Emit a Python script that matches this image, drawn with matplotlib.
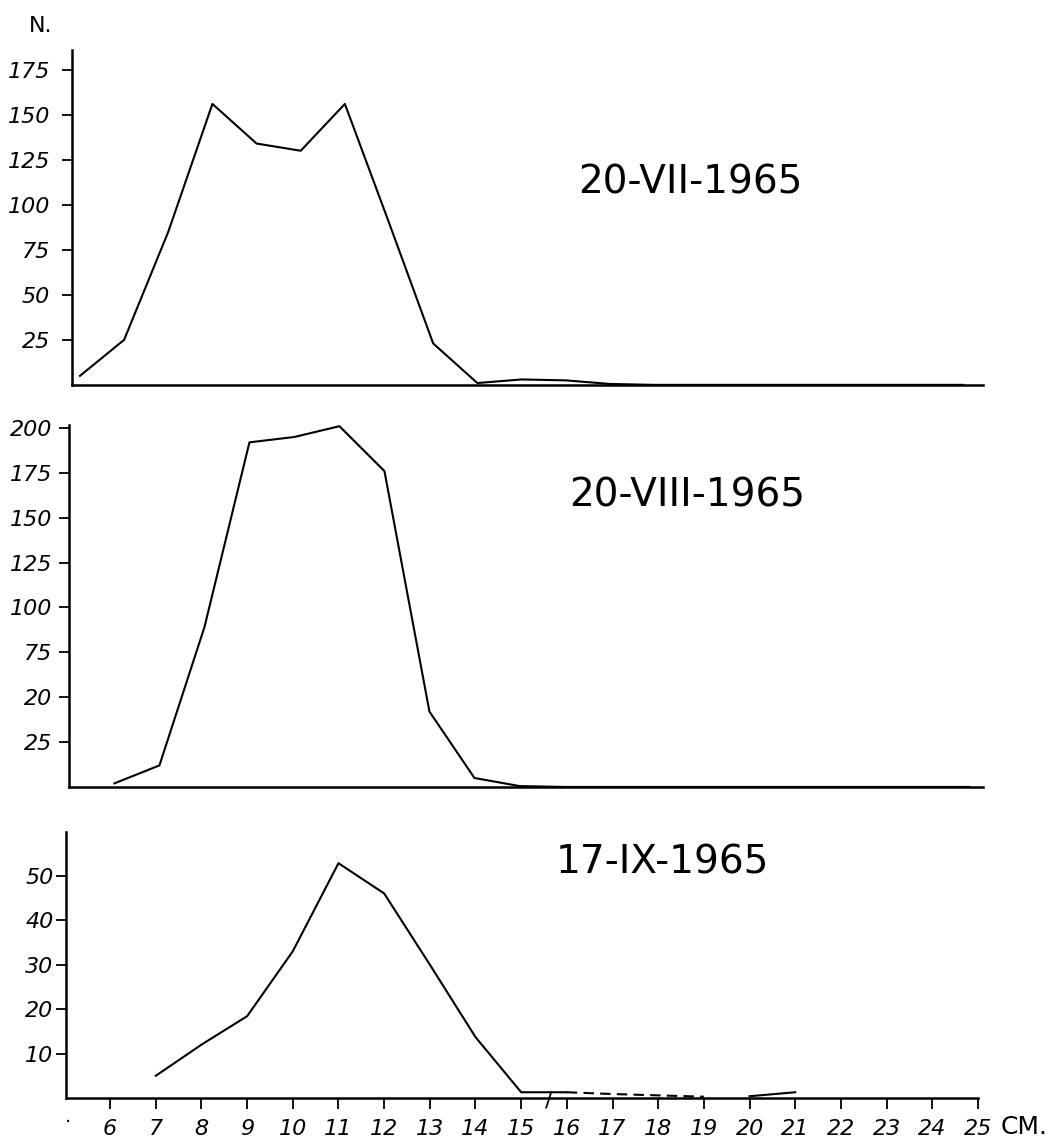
import matplotlib
matplotlib.use("Agg")
from matplotlib import pyplot as plt

# length classes (cm)
x_jul = [5, 6, 7, 8, 9, 10, 11, 12, 13, 14, 15, 16, 17, 18, 19, 20, 21, 22, 23, 24, 25]
n_jul = [5, 25, 85, 156, 134, 130, 156, 90, 23, 1, 3, 2.5, 0.5, 0, 0, 0, 0, 0, 0, 0, 0]

x_aug = [6, 7, 8, 9, 10, 11, 12, 13, 14, 15, 16, 17, 18, 19, 20, 21, 22, 23, 24, 25]
n_aug = [2, 12, 89, 192, 195, 201, 176, 42, 5, 0.5, 0, 0, 0, 0, 0, 0, 0, 0, 0, 0]

x_sep = [7, 8, 9, 10, 11, 12, 13, 14, 15, 16]
n_sep = [5, 12, 18.4, 33, 52.8, 46, 30, 13.7, 1.3, 1.3]
x_sep_dash = [16, 17, 18, 19]
n_sep_dash = [1.3, 0.9, 0.6, 0.3]
x_sep_tail = [20, 21]
n_sep_tail = [0.4, 1.3]

yticks_jul = [25, 50, 75, 100, 125, 150, 175]
yticks_aug = [25, 50, 75, 100, 125, 150, 175, 200]
ylabels_aug = ["25", "20", "75", "100", "125", "150", "175", "200"]  # "20" as printed
yticks_sep = [10, 20, 30, 40, 50]
xticks_sep = list(range(6, 26))

titles = ["20-VII-1965", "20-VIII-1965", "17-IX-1965"]

LW = 1.5
TICKFONT = dict(fontsize=16, fontstyle="italic")


def style_axis(ax, pad):
    for side in ["top", "right"]:
        ax.spines[side].set_visible(False)
    for side in ["left", "bottom"]:
        ax.spines[side].set_linewidth(1.8)
    ax.tick_params(axis="y", direction="out", length=7, width=1.3, pad=pad)
    for lab in ax.get_yticklabels():
        lab.set_fontsize(TICKFONT["fontsize"])
        lab.set_fontstyle(TICKFONT["fontstyle"])


fig = plt.figure(figsize=(10.53, 11.42), dpi=100)

# top panel
ax1 = fig.add_axes([0.0684, 0.663, 0.865, 0.2933])
ax1.plot(x_jul, n_jul, color="black", lw=LW, clip_on=False)
ax1.set_xlim(4.82, 25.45)
ax1.set_ylim(0, 186)
ax1.set_xticks([])
ax1.set_yticks(yticks_jul)
ax1.set_yticklabels([str(v) for v in yticks_jul])
style_axis(ax1, 9)
fig.text(690 / 1053, 1 - 182 / 1142, titles[0], fontsize=28,
         ha="center", va="center")
fig.text(41 / 1053, 1 - 26 / 1142, "N.", fontsize=16, ha="center", va="center")

# middle panel
ax2 = fig.add_axes([0.0655, 0.3109, 0.868, 0.317])
ax2.plot(x_aug, n_aug, color="black", lw=LW, clip_on=False)
ax2.set_xlim(4.99, 25.3)
ax2.set_ylim(0, 201.7)
ax2.set_xticks([])
ax2.set_yticks(yticks_aug)
ax2.set_yticklabels(ylabels_aug)
style_axis(ax2, 5)
fig.text(687 / 1053, 1 - 496 / 1142, titles[1], fontsize=28,
         ha="center", va="center")

# bottom panel
ax3 = fig.add_axes([0.0627, 0.0385, 0.866, 0.2329])
ax3.plot(x_sep, n_sep, color="black", lw=LW, clip_on=False)
ax3.plot(x_sep_dash, n_sep_dash, color="black", lw=LW, dashes=(5, 3), clip_on=False)
ax3.plot(x_sep_tail, n_sep_tail, color="black", lw=LW, clip_on=False)
ax3.set_xlim(5.035, 25.0)
ax3.set_ylim(0, 59.8)
ax3.set_yticks(yticks_sep)
ax3.set_yticklabels([str(v) for v in yticks_sep])
ax3.set_xticks(xticks_sep)
ax3.set_xticklabels([str(v) for v in xticks_sep], **TICKFONT)
ax3.tick_params(axis="x", direction="out", length=8, width=1.3, pad=7)
style_axis(ax3, 2)
fig.text(662 / 1053, 1 - 862 / 1142, titles[2], fontsize=28,
         ha="center", va="center")
ax3.text(25.5, -6.6, "CM.", fontsize=18, ha="left", va="center", clip_on=False)
ax3.text(5.07, -5.6, "·", fontsize=14, ha="center", va="center", clip_on=False)
ax3.text(15.6, -0.6, "/", fontsize=16, ha="center", va="center", clip_on=False)

plt.savefig("out.png", dpi=100)
